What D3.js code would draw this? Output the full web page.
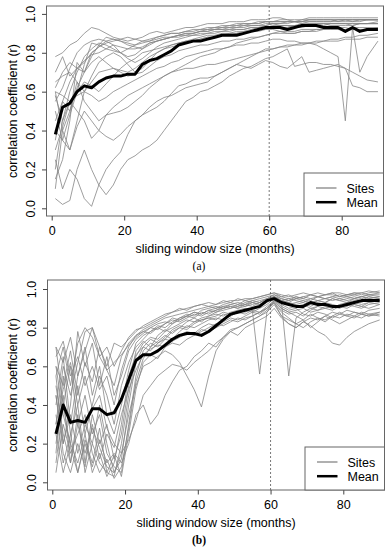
<!DOCTYPE html>
<html>
<head>
<meta charset="utf-8">
<script src="https://cdnjs.cloudflare.com/ajax/libs/d3/7.8.5/d3.min.js"></script>
<style>
body { margin: 0; background: #fff; }
svg { display: block; font-family: "Liberation Sans", Arial, sans-serif; }
</style>
</head>
<body>
<svg id="chart" width="392" height="550"></svg>
<script>

// sliding window sizes (months) shared by every series
var months = [1, 3, 5, 7, 9, 11, 13, 15, 17, 19, 21, 23, 25, 27, 29, 31, 33, 35, 37, 39,
			  41, 43, 45, 47, 49, 51, 53, 55, 57, 59, 61, 63, 65, 67, 69, 71, 73, 75, 77, 79,
			  81, 83, 85, 87, 90];

var xTicks = [0, 20, 40, 60, 80];
var yTicks = [0, 0.2, 0.4, 0.6, 0.8, 1.0];
var legendLabels = ["Sites", "Mean"];
var cutoffMonth = 60;

// correlation coefficient (r) x 100, one row per site
var sitesA = [
	[78,80,84,86,90, 93,92,90,88,87, 86,87,88,90,91, 90,91,92,93,93, 94,95,95,95,96, 96,96,97,97,97, 98,98,97,97,97, 98,98,98,98,98, 98,98,98,98,98],
	[55,62,72,80,84, 86,87,86,84,80, 78,79,82,85,86, 87,88,89,90,90, 91,92,92,93,93, 94,94,95,95,96, 96,96,96,96,97, 97,97,97,97,96, 97,97,97,97,97],
	[62,70,75,72,70, 78,84,88,87,86, 85,84,85,86,88, 89,90,90,91,92, 92,93,93,94,94, 95,95,95,96,96, 96,97,97,96,96, 97,97,97,97,97, 97,96,96,97,97],
	[20,45,60,70,78, 82,85,84,82,80, 77,75,77,80,83, 85,86,87,88,89, 89,90,90,91,91, 92,92,93,93,94, 95,94,94,94,95, 95,95,95,94,94, 94,94,95,95,95],
	[45,55,65,72,76, 79,80,82,84,83, 82,82,83,85,86, 87,88,88,89,89, 90,90,91,91,92, 92,92,93,93,93, 93,94,94,93,93, 94,94,94,95,95, 95,95,95,95,96],
	[10,40,30,45,60, 68,75,78,80,78, 74,70,72,76,80, 82,83,84,85,86, 87,88,88,89,90, 90,91,91,92,92, 93,93,93,94,94, 94,94,95,95,95, 95,94,95,95,95],
	[50,35,48,60,74, 85,84,82,81,80, 82,84,86,86,87, 88,88,89,90,90, 91,91,92,92,92, 93,93,94,94,94, 95,95,96,96,95, 96,96,96,96,96, 96,96,97,97,97],
	[30,42,55,60,65, 63,60,64,68,72, 75,77,80,81,82, 83,84,85,86,87, 88,89,89,90,90, 91,91,92,93,93, 94,94,94,94,94, 95,95,95,95,95, 95,95,95,95,95],
	[60,58,55,50,45, 36,40,48,49,50, 52,55,58,62,65, 68,70,72,74,76, 78,79,80,82,83, 85,86,87,88,89, 90,91,91,91,92, 92,92,92,93,93, 93,92,92,92,93],
	[25,10,20,15,5, 1,12,20,25,29, 38,45,48,50,52, 55,59,63,64,66, 67,67,68,70,72, 74,76,78,80,82, 82,83,84,84,85, 85,86,86,87,87, 88,88,89,89,90],
	[5,2,4,20,30, 20,12,7,12,20, 25,27,30,32,35, 40,45,50,55,57, 60,61,63,65,68, 70,72,73,75,77, 78,80,82,73,74, 75,75,74,74,73, 72,70,68,66,65],
	[40,35,30,42,50, 45,40,37,35,38, 42,45,48,52,55, 57,58,60,62,63, 64,65,68,70,72, 74,73,72,74,76, 75,73,72,75,78, 70,71,72,73,74, 72,63,62,60,60],
	[65,68,70,65,60, 58,55,57,60,62, 64,66,68,70,72, 73,75,76,78,79, 80,81,82,82,83, 84,84,85,85,86, 87,87,86,86,85, 85,84,82,80,78, 45,93,70,78,86],
	[35,55,50,62,70, 75,78,75,72,71, 70,72,75,78,80, 82,84,85,86,86, 87,88,88,89,89, 90,90,91,91,92, 92,91,90,90,91, 91,92,92,92,92, 92,93,93,93,93],
	[15,25,45,75,70, 80,83,85,86,87, 88,87,86,87,88, 89,90,90,91,91, 92,92,93,93,94, 94,95,95,95,96, 96,96,96,96,96, 97,97,97,97,97, 97,97,97,97,97],
	[70,78,68,72,75, 80,83,86,87,86, 84,83,82,84,86, 87,88,89,89,90, 91,91,92,92,93, 93,94,94,94,95, 95,95,95,96,96, 96,96,96,96,97, 97,97,97,97,97],
	[58,45,55,58,60, 65,70,71,72,70, 68,69,70,73,76, 78,79,81,82,83, 84,84,85,86,86, 87,87,88,88,89, 90,90,90,90,91, 91,91,92,92,92, 91,92,92,92,92],
	[60,40,50,65,55, 50,45,48,52,55, 58,60,62,64,66, 68,70,71,72,72, 73,74,74,75,76, 77,78,79,80,81, 82,83,83,84,84, 85,85,86,86,86, 87,87,87,88,88]
];

var meanA = [38,52,54,60,63, 62,65,67,68,68, 69,69,74,76,77, 79,81,84,85,86, 86,87,88,89,89, 89,90,91,92,93, 93,93,92,93,94, 94,94,93,93,93, 91,93,91,92,92];

var sitesB = [
	[55,70,50,72,80, 75,65,70,60,68, 75,79,80,82,84, 86,88,89,90,91, 92,91,92,93,94, 94,95,95,96,97, 98,96,95,96,95, 97,96,97,98,96, 97,98,97,98,99],
	[30,60,45,62,78, 80,70,58,50,65, 72,76,78,77,80, 82,85,84,86,88, 87,89,90,91,92, 91,93,94,93,95, 96,95,94,95,96, 95,96,95,96,97, 96,95,96,97,97],
	[45,20,35,15,30, 20,10,5,3,20, 45,65,72,75,74, 78,80,82,84,83, 85,86,88,89,90, 91,92,93,92,94, 95,93,92,93,94, 93,94,95,94,95, 94,95,96,95,96],
	[70,40,60,30,45, 25,35,15,8,5, 30,55,68,72,70, 74,78,80,79,82, 84,85,86,88,87, 89,90,89,56,88, 94,90,88,89,90, 88,89,90,91,90, 92,91,90,92,93],
	[15,55,25,40,10, 35,20,30,12,25, 50,68,73,70,76, 79,77,80,83,85, 83,86,87,86,88, 89,88,90,91,93, 96,93,55,85,88, 90,89,91,90,92, 91,93,92,93,94],
	[60,35,20,50,25, 40,55,45,30,50, 62,70,74,78,80, 78,82,84,86,85, 88,87,89,90,91, 90,91,92,93,94, 96,94,95,94,93, 95,94,93,95,94, 95,96,95,96,95],
	[50,25,10,30,15, 28,18,8,5,15, 35,50,60,62,65, 68,66,62,55,48, 39,55,68,74,78, 80,82,84,86,88, 92,86,84,82,80, 83,85,84,86,85, 87,86,88,87,88],
	[35,10,25,5,20, 8,22,10,15,10, 20,35,40,30,35, 45,52,58,60,65, 68,72,70,75,78, 76,80,82,84,86, 90,85,82,80,83, 81,78,76,72,71, 75,78,80,82,84],
	[65,73,55,65,50, 60,48,55,40,58, 70,76,79,81,83, 85,86,87,88,89, 90,91,90,92,93, 92,94,93,94,95, 97,95,94,96,95, 94,96,95,96,95, 96,97,96,97,96],
	[20,45,10,35,5, 20,40,20,5,12, 40,62,70,74,72, 75,79,81,80,83, 84,85,84,87,86, 88,89,88,90,92, 95,91,89,90,87, 86,88,87,85,87, 89,88,87,89,90],
	[40,65,30,55,70, 45,60,35,25,40, 58,72,76,78,81, 80,83,85,87,86, 89,90,91,90,92, 93,92,94,95,96, 97,96,97,95,96, 97,96,97,97,96, 97,97,98,97,98],
	[5,30,15,25,35, 15,5,12,2,8, 28,52,64,70,73, 76,74,78,81,80, 82,84,85,84,86, 88,87,89,88,91, 94,90,88,86,84, 87,85,83,86,88, 86,85,87,86,88],
	[55,20,40,78,60, 72,50,65,45,55, 68,74,77,80,79, 82,84,83,85,87, 86,88,89,91,90, 92,91,93,92,94, 96,94,93,95,94, 92,94,93,95,94, 93,95,94,96,95],
	[25,5,20,10,25, 5,15,3,10,30, 55,66,70,68,72, 74,73,76,78,77, 80,82,81,83,85, 84,86,88,87,90, 93,88,85,82,84, 80,83,86,84,82, 84,86,85,87,86],
	[60,50,68,45,62, 52,70,60,72,70, 74,78,81,83,85, 87,88,90,89,91, 92,93,92,94,93, 95,94,95,96,97, 98,97,96,97,98, 97,98,97,98,98, 97,98,98,99,98],
	[45,15,5,20,8, 30,12,25,18,35, 48,58,66,69,71, 70,73,75,77,76, 78,80,82,81,83, 85,84,86,88,90, 93,89,87,88,86, 89,91,90,89,91, 90,92,91,90,92],
	[70,62,75,55,68, 80,65,58,62,66, 71,75,78,80,82, 83,82,85,86,88, 87,89,88,90,91, 90,92,91,93,95, 96,94,93,92,93, 91,93,92,90,92, 93,94,93,95,94],
	[10,40,18,5,22, 10,28,5,14,3, 25,48,62,66,64, 70,72,71,74,76, 79,78,80,82,84, 83,85,86,88,90, 94,92,90,91,92, 90,91,93,92,91, 93,92,91,93,92],
	[30,48,62,40,55, 38,45,28,20,15, 22,32,45,50,55, 58,61,60,58,62, 65,68,72,75,79, 80,82,84,86,89, 93,86,82,80,83, 85,84,86,88,87, 86,88,87,86,87]
];

var meanB = [25,40,31,32,31, 38,38,35,36,43, 53,63,66,66,68, 71,74,76,77,77, 76,78,81,84,87, 88,89,90,91,94, 95,93,92,91,91, 93,92,92,91,91, 92,93,94,94,94];


var svg = d3.select("#chart");

var panels = [
	{ sites: sitesA, mean: meanA, tag: "(a)", tagWeight: "normal",
	  box: { left: 46.5, right: 383.5, top: 6, bottom: 216 },
	  xRange: [51.7, 341.7], yRange: [208.3, 13.9] },
	{ sites: sitesB, mean: meanB, tag: "(b)", tagWeight: "bold",
	  box: { left: 47.5, right: 384.5, top: 280, bottom: 490 },
	  xRange: [52.3, 343.3], yRange: [482.3, 289] }
];


function drawPanel(p) {

	var box = p.box;
	var x = d3.scaleLinear().domain([0, 80]).range(p.xRange);
	var y = d3.scaleLinear().domain([0, 1]).range(p.yRange);

	var line = d3.line()
				.x(function(d, i) { return x(months[i]); })
				.y(function(d) { return y(d / 100); });

	var g = svg.append("g");

	g.append("g")
		.selectAll("path")
		.data(p.sites).enter()
		.append("path")
		.attr("d", line)
		.attr("fill", "none")
		.attr("stroke", "#858585")
		.attr("stroke-width", 0.8);

	g.append("line")
		.attr("x1", x(cutoffMonth)).attr("x2", x(cutoffMonth))
		.attr("y1", box.top).attr("y2", box.bottom)
		.attr("stroke", "#555")
		.attr("stroke-width", 0.8)
		.attr("stroke-dasharray", "2,2");

	g.append("path")
		.datum(p.mean)
		.attr("d", line)
		.attr("fill", "none")
		.attr("stroke", "#000")
		.attr("stroke-width", 3)
		.attr("stroke-linejoin", "round");

	g.append("rect")
		.attr("x", box.left).attr("y", box.top)
		.attr("width", box.right - box.left)
		.attr("height", box.bottom - box.top)
		.attr("fill", "none")
		.attr("stroke", "#666");

	var xAxis = g.append("g")
				.attr("transform", "translate(0," + box.bottom + ")")
				.call(d3.axisBottom(x).tickValues(xTicks).tickSize(4.5).tickPadding(6));

	var yAxis = g.append("g")
				.attr("transform", "translate(" + box.left + ",0)")
				.call(d3.axisLeft(y).tickValues(yTicks).tickSize(4.5)
						.tickFormat(d3.format(".1f")));

	[xAxis, yAxis].forEach(function(a) {
		a.attr("font-family", null).attr("font-size", null);
		a.select(".domain").remove();
		a.selectAll(".tick line").attr("stroke", "#444");
		a.selectAll(".tick text").attr("fill", "#000").style("font-size", "12.5px");
	});

	yAxis.selectAll(".tick text")
		.attr("x", null).attr("dy", null)
		.attr("text-anchor", "middle")
		.attr("transform", "translate(-11.5,0) rotate(-90)");

	var midY = (box.top + box.bottom) / 2;

	g.append("text")
		.attr("transform", "translate(16.5," + midY + ") rotate(-90)")
		.attr("text-anchor", "middle")
		.style("font-size", "12.5px")
		.text("correlation coefficient (r)");

	g.append("text")
		.attr("x", (box.left + box.right) / 2)
		.attr("y", box.bottom + 36.5)
		.attr("text-anchor", "middle")
		.style("font-size", "12.5px")
		.text("sliding window size (months)");

	g.append("text")
		.attr("x", 199)
		.attr("y", box.bottom + 53.5)
		.attr("text-anchor", "middle")
		.style("font-family", "'Liberation Serif', 'Times New Roman', serif")
		.style("font-size", "11.5px")
		.style("font-weight", p.tagWeight)
		.text(p.tag);

	// legend in the lower right corner
	var lx = box.right - 79.5;
	var ly = box.bottom - 43;

	g.append("rect")
		.attr("x", lx).attr("y", ly)
		.attr("width", 79.5).attr("height", 43)
		.attr("fill", "#fff")
		.attr("stroke", "#666");

	var entries = g.selectAll(".legend-entry")
					.data(legendLabels).enter()
					.append("g")
					.attr("transform", function(d, i) {
						return "translate(" + lx + "," + (ly + 15 + i * 14.2) + ")"; });

	entries.append("line")
		.attr("x1", 12).attr("x2", 32.5)
		.attr("stroke", function(d, i) { return i == 0 ? "#858585" : "#000"; })
		.attr("stroke-width", function(d, i) { return i == 0 ? 1.3 : 2.5; });

	entries.append("text")
		.attr("x", 42.5)
		.attr("dy", "0.36em")
		.style("font-size", "12.5px")
		.text(function(d) { return d; });

}


panels.forEach(drawPanel);

</script>
</body>
</html>
